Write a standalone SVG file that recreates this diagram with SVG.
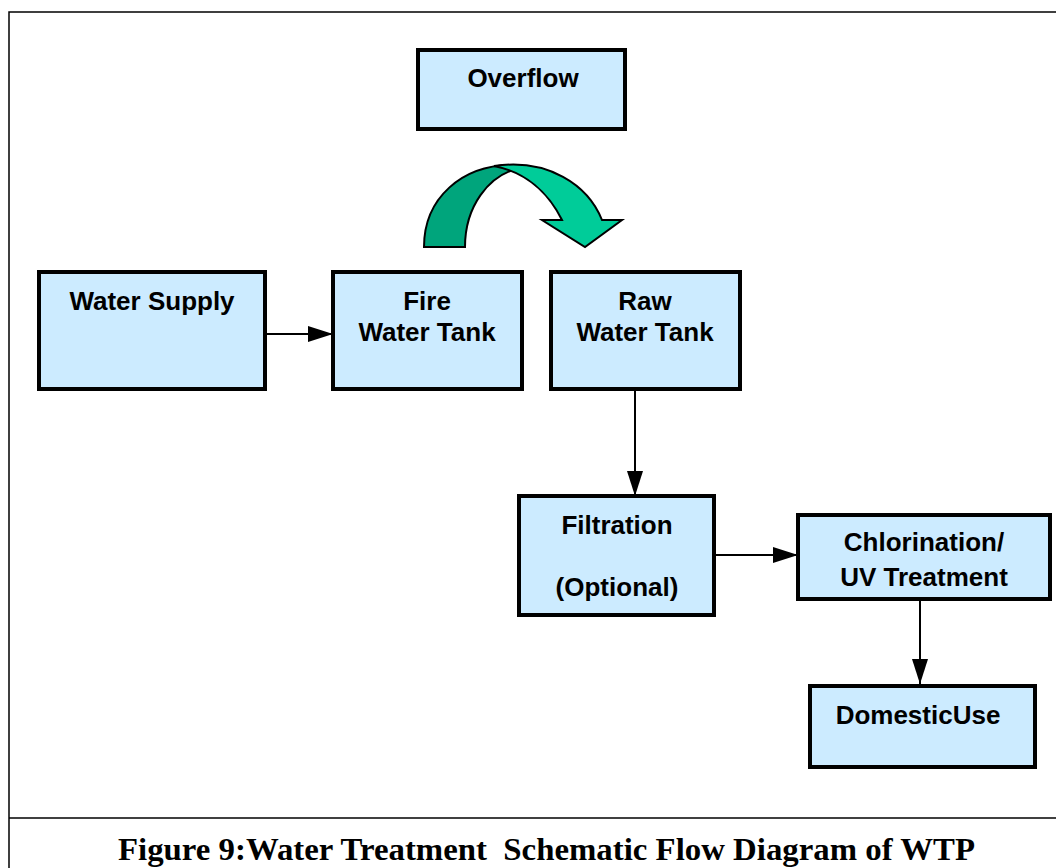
<svg xmlns="http://www.w3.org/2000/svg" width="1056" height="868" viewBox="0 0 1056 868">
<defs>
<style>
.box{fill:#CCEBFF;stroke:#000;stroke-width:4}
.t{font-family:"Liberation Sans",Arial,sans-serif;font-weight:bold;font-size:26px;fill:#000;text-anchor:middle}
.c{stroke:#000;stroke-width:2;fill:none;marker-end:url(#ah)}
.frame{stroke:#000;stroke-width:1.5;fill:none}
</style>
<marker id="ah" markerUnits="userSpaceOnUse" markerWidth="26" markerHeight="16" refX="25" refY="8" orient="auto">
<path d="M0,0 L25,8 L0,16 Z" fill="#000"/>
</marker>
</defs>
<rect width="1056" height="868" fill="#fff"/>
<g id="frame">
<path class="frame" d="M9,868 V12 H1056"/>
<path class="frame" d="M9,818 H1056"/>
</g>
<g id="connectors">
<line class="c" x1="265" y1="334" x2="333" y2="334"/>
<line class="c" x1="635" y1="390" x2="635" y2="496"/>
<line class="c" x1="714" y1="555" x2="798" y2="555"/>
<line class="c" x1="920" y1="599" x2="920" y2="684"/>
</g>
<g id="curved-arrow" stroke="#000" stroke-width="2" stroke-linejoin="miter">
<path d="M424,247 C424,198 462,165 512,165 L520,168 C488,175 465,207 465,247 Z" fill="#00A57C"/>
<path d="M494,166 C548,158 588,185 602,220 L622,220 L585,247 L542,220 L562,220 C548,192 525,172 494,166 Z" fill="#00CC99"/>
</g>
<g id="overflow">
<rect class="box" x="418" y="50" width="207" height="79"/>
<text class="t" x="523" y="87">Overflow</text>
</g>
<g id="water-supply">
<rect class="box" x="39" y="272" width="226" height="117"/>
<text class="t" x="152" y="310">Water Supply</text>
</g>
<g id="fire-water-tank">
<rect class="box" x="333" y="272" width="189" height="117"/>
<text class="t" x="427" y="310">Fire</text>
<text class="t" x="427" y="341">Water Tank</text>
</g>
<g id="raw-water-tank">
<rect class="box" x="551" y="272" width="189" height="117"/>
<text class="t" x="645" y="310">Raw</text>
<text class="t" x="645" y="341">Water Tank</text>
</g>
<g id="filtration">
<rect class="box" x="519" y="496" width="195" height="119"/>
<text class="t" x="617" y="534">Filtration</text>
<text class="t" x="617" y="596">(Optional)</text>
</g>
<g id="chlorination">
<rect class="box" x="798" y="515" width="252" height="84"/>
<text class="t" x="924" y="551">Chlorination/</text>
<text class="t" x="924" y="586">UV Treatment</text>
</g>
<g id="domestic-use">
<rect class="box" x="810" y="686" width="225" height="81"/>
<text class="t" x="918" y="724">DomesticUse</text>
</g>
<text x="118" y="860" xml:space="preserve" textLength="857" lengthAdjust="spacingAndGlyphs" font-family="'Liberation Serif','Times New Roman',serif" font-weight="bold" font-size="32" fill="#000">Figure 9:Water Treatment  Schematic Flow Diagram of WTP</text>
</svg>
